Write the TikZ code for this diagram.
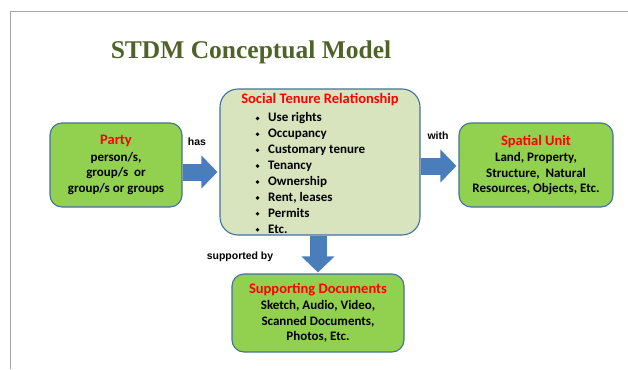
\documentclass[tikz,border=0pt]{standalone}
\usepackage{fontspec}
\setmainfont{Carlito}
\newfontfamily\labelfont{Liberation Sans}
\newfontfamily\headfont{Liberation Serif}
\usetikzlibrary{arrows.meta,calc}
\definecolor{boxgreen}{HTML}{92D050}
\definecolor{palegreen}{HTML}{D7E4BD}
\definecolor{boxline}{HTML}{41719C}
\definecolor{arrowblue}{HTML}{4A7EBB}
\definecolor{headgreen}{HTML}{4F6228}
\definecolor{framegray}{HTML}{A6A6A6}
\tikzset{
  greenbox/.style={draw=boxline, line width=1.1pt, fill=boxgreen, rounded corners=12pt,
    align=center, inner sep=0pt, font=\bfseries\fontsize{13}{15.5}\selectfont},
  bigbox/.style={draw=boxline, line width=1.1pt, fill=palegreen, rounded corners=18pt, inner sep=0pt},
  redtitle/.style={font=\bfseries\fontsize{14.5}{16}\selectfont, text=red, inner sep=0pt},
  itemtext/.style={font=\bfseries\fontsize{13}{15}\selectfont, inner sep=0pt, anchor=base west},
  itemdot/.style={circle, fill=black, inner sep=0pt, minimum size=3.8pt},
  linklabel/.style={font=\labelfont\bfseries\fontsize{10.5}{12}\selectfont, inner sep=0pt},
  blockarrow/.style={draw=arrowblue, line width=17pt,
    -{Triangle[length=16pt, width=32pt, fill=arrowblue]}}
}
\newcommand\boxhead[1]{\textcolor{red}{\fontsize{14.5}{16}\selectfont #1}}
\begin{document}
\begin{tikzpicture}[x=1pt, y=-1pt]
\useasboundingbox (0,0) rectangle (628,369);
\draw[framegray, line width=0.7pt] (628,11) -- (10,11) -- (10,369);
\node[font=\headfont\bfseries\fontsize{25.5}{30}\selectfont, text=headgreen] (head) at (251,52) {STDM Conceptual Model};
% boxes
\node[greenbox, minimum width=132pt, minimum height=84pt] (party) at (116,165)
  {\boxhead{Party}\\[1pt]person/s,\\group/s~~or\\group/s or groups};
\node[bigbox, minimum width=200pt, minimum height=146pt] (str) at (320,162) {};
\node[redtitle] (strtitle) at (320,100) {Social Tenure Relationship};
\foreach \txt [count=\i] in {Use rights, Occupancy, Customary tenure, Tenancy,
    Ownership, {Rent, leases}, Permits, Etc.}{
  \node[itemdot] (bul\i) at (257.5,102.5+\i*15.9) {};
  \node[itemtext] (item\i) at (268,106+\i*15.9) {\txt};
}
\node[greenbox, minimum width=154pt, minimum height=84pt] (unit) at (536,165)
  {\boxhead{Spatial Unit}\\[1pt]Land, Property,\\Structure,~~Natural\\Resources, Objects, Etc.};
\node[greenbox, minimum width=172pt, minimum height=78pt] (docs) at (318,313)
  {\boxhead{Supporting Documents}\\[1pt]Sketch, Audio, Video,\\Scanned Documents,\\Photos, Etc.};
% connectors
\draw[blockarrow, shorten >=2pt] ($(party.east)+(0,7)$) -- ($(str.west)+(0,10)$);
\draw[blockarrow, shorten >=2pt] ($(str.east)+(0,4)$) -- ($(unit.west)+(0,1)$);
\draw[blockarrow, shorten >=1pt] (docs.north |- str.south) -- (docs.north);
\node[linklabel] (has) at (197,142) {has};
\node[linklabel] (with) at (438,136) {with};
\node[linklabel] (supp) at (240,257) {supported by};
\end{tikzpicture}
\end{document}
